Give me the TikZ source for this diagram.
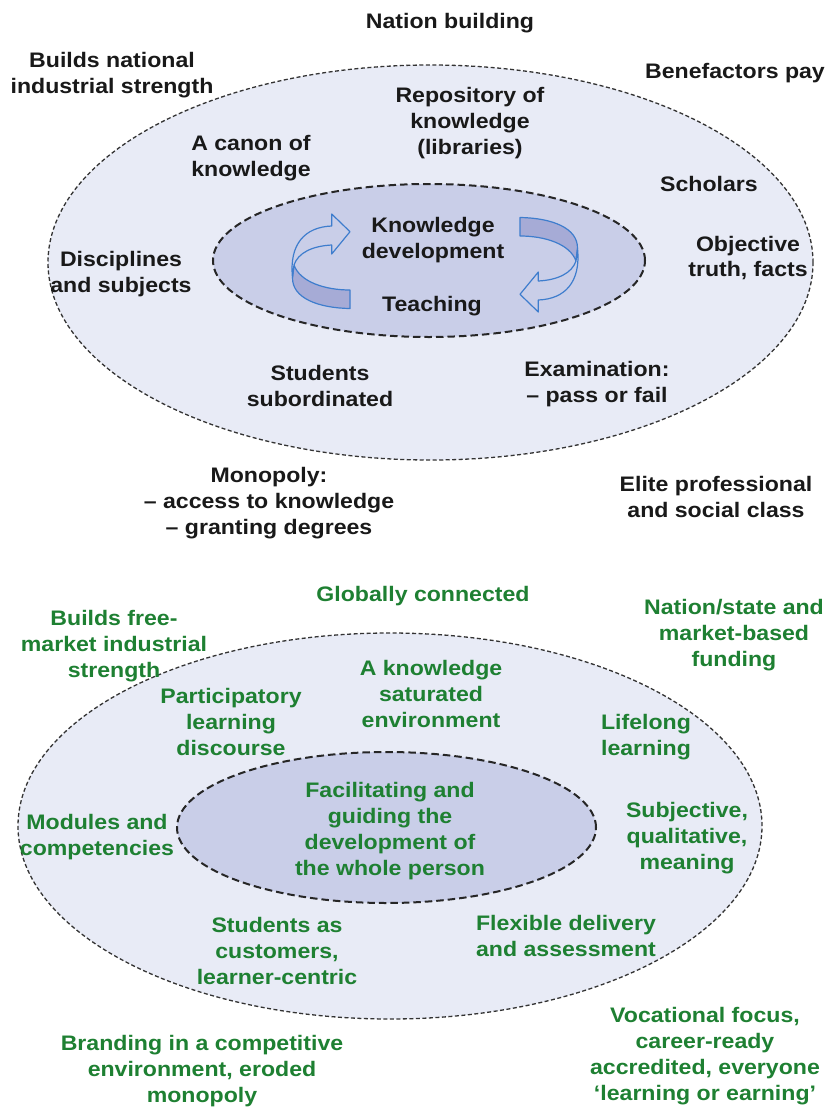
\documentclass[tikz,border=0pt]{standalone}
\usepackage{fontspec}
\setmainfont{Liberation Sans}[FakeStretch=1.1]
\usetikzlibrary{shapes.geometric}
\definecolor{outerfill}{RGB}{232,235,246}
\definecolor{innerfill}{RGB}{201,206,232}
\definecolor{arrowblue}{RGB}{62,125,205}
\definecolor{bandfill}{RGB}{166,171,214}
\definecolor{txtgreen}{RGB}{30,128,50}
\begin{document}
\begin{tikzpicture}[x=1pt,y=-1pt,
  lbl/.style={align=center, inner sep=0pt, yshift=-3pt, font=\fontsize{21}{25.8}\selectfont\bfseries},
  blk/.style={lbl, text=black!90},
  grn/.style={lbl, text=txtgreen},
  outerell/.style={ellipse, draw=black!80, fill=outerfill, line width=1.3pt, dash pattern=on 4pt off 2.5pt, inner sep=0pt},
  innerell/.style={ellipse, draw=black!85, fill=innerfill, line width=2pt, dash pattern=on 7.5pt off 4pt, inner sep=0pt},
  ribbonback/.style={draw=arrowblue, fill=bandfill, line width=1.2pt, line join=round},
  ribbonfront/.style={draw=arrowblue, fill=innerfill, line width=1.2pt, line join=round},
]
\useasboundingbox (0,0) rectangle (827,1109);
\fill[white] (0,0) rectangle (827,1109);

% ---------- top diagram ----------
\node[outerell, minimum width=765pt, minimum height=395pt] (E1) at (430.5,262.5) {};
\node[innerell, minimum width=432pt, minimum height=153pt] (E2) at (429,260.5) {};

\foreach \ang in {0,180}{
\begin{scope}[rotate around={\ang:(435,263)}]
  \path[ribbonback] (294,265) .. controls (300,282) and (325,290) .. (350,290)
     -- (350,308.5) .. controls (318,308) and (292,298) .. (292.5,277.5) -- cycle;
  \path[ribbonfront] (292.5,277.5) .. controls (289,244) and (305,227) .. (331.7,226)
     -- (331.7,214) -- (350,231.7) -- (331.7,254) -- (331.7,245)
     .. controls (312,246) and (298,253) .. (294,265) -- cycle;
\end{scope}
}

\node[blk] (t1) at (450,20) {Nation building};
\node[blk] (t2) at (112,72) {Builds national\\industrial strength};
\node[blk] (t3) at (735,70) {Benefactors pay};
\node[blk] (t4) at (470,120) {Repository of\\knowledge\\(libraries)};
\node[blk] (t5) at (251,155) {A canon of\\knowledge};
\node[blk] (t6) at (709,181) {Scholars};
\node[blk] (t7) at (748,255) {Objective\\truth, facts};
\node[blk] (t8) at (121,271) {Disciplines\\and subjects};
\node[blk] (t9) at (433,237) {Knowledge\\development};
\node[blk] (t10) at (432,303) {Teaching};
\node[blk] (t11) at (320,383) {Students\\subordinated};
\node[blk] (t12) at (597,381) {Examination:\\– pass or fail};
\node[blk] (t13) at (269,500) {Monopoly:\\– access to knowledge\\– granting degrees};
\node[blk] (t14) at (716,494) {Elite professional\\and social class};

% ---------- bottom diagram ----------
\node[outerell, minimum width=744pt, minimum height=386pt] (E3) at (390,826) {};
\node[innerell, minimum width=419pt, minimum height=151pt] (E4) at (386.5,827.5) {};

\node[grn] (b1) at (423,593) {Globally connected};
\node[grn] (b2) at (114,643) {Builds free-\\market industrial\\strength};
\node[grn] (b3) at (734,632) {Nation/state and\\market-based\\funding};
\node[grn] (b4) at (431,691) {A knowledge\\saturated\\environment};
\node[grn] (b5) at (231,719) {Participatory\\learning\\discourse};
\node[grn] (b6) at (646,734) {Lifelong\\learning};
\node[grn] (b7) at (97,834) {Modules and\\competencies};
\node[grn] (b8) at (390,828) {Facilitating and\\guiding the\\development of\\the whole person};
\node[grn] (b9) at (687,835) {Subjective,\\qualitative,\\meaning};
\node[grn] (b10) at (277,948) {Students as\\customers,\\learner-centric};
\node[grn] (b11) at (566,933) {Flexible delivery\\and assessment};
\node[grn] (b12) at (202,1068) {Branding in a competitive\\environment, eroded\\monopoly};
\node[grn] (b13) at (705,1053) {Vocational focus,\\career-ready\\accredited, everyone\\‘learning or earning’};
\end{tikzpicture}
\end{document}
